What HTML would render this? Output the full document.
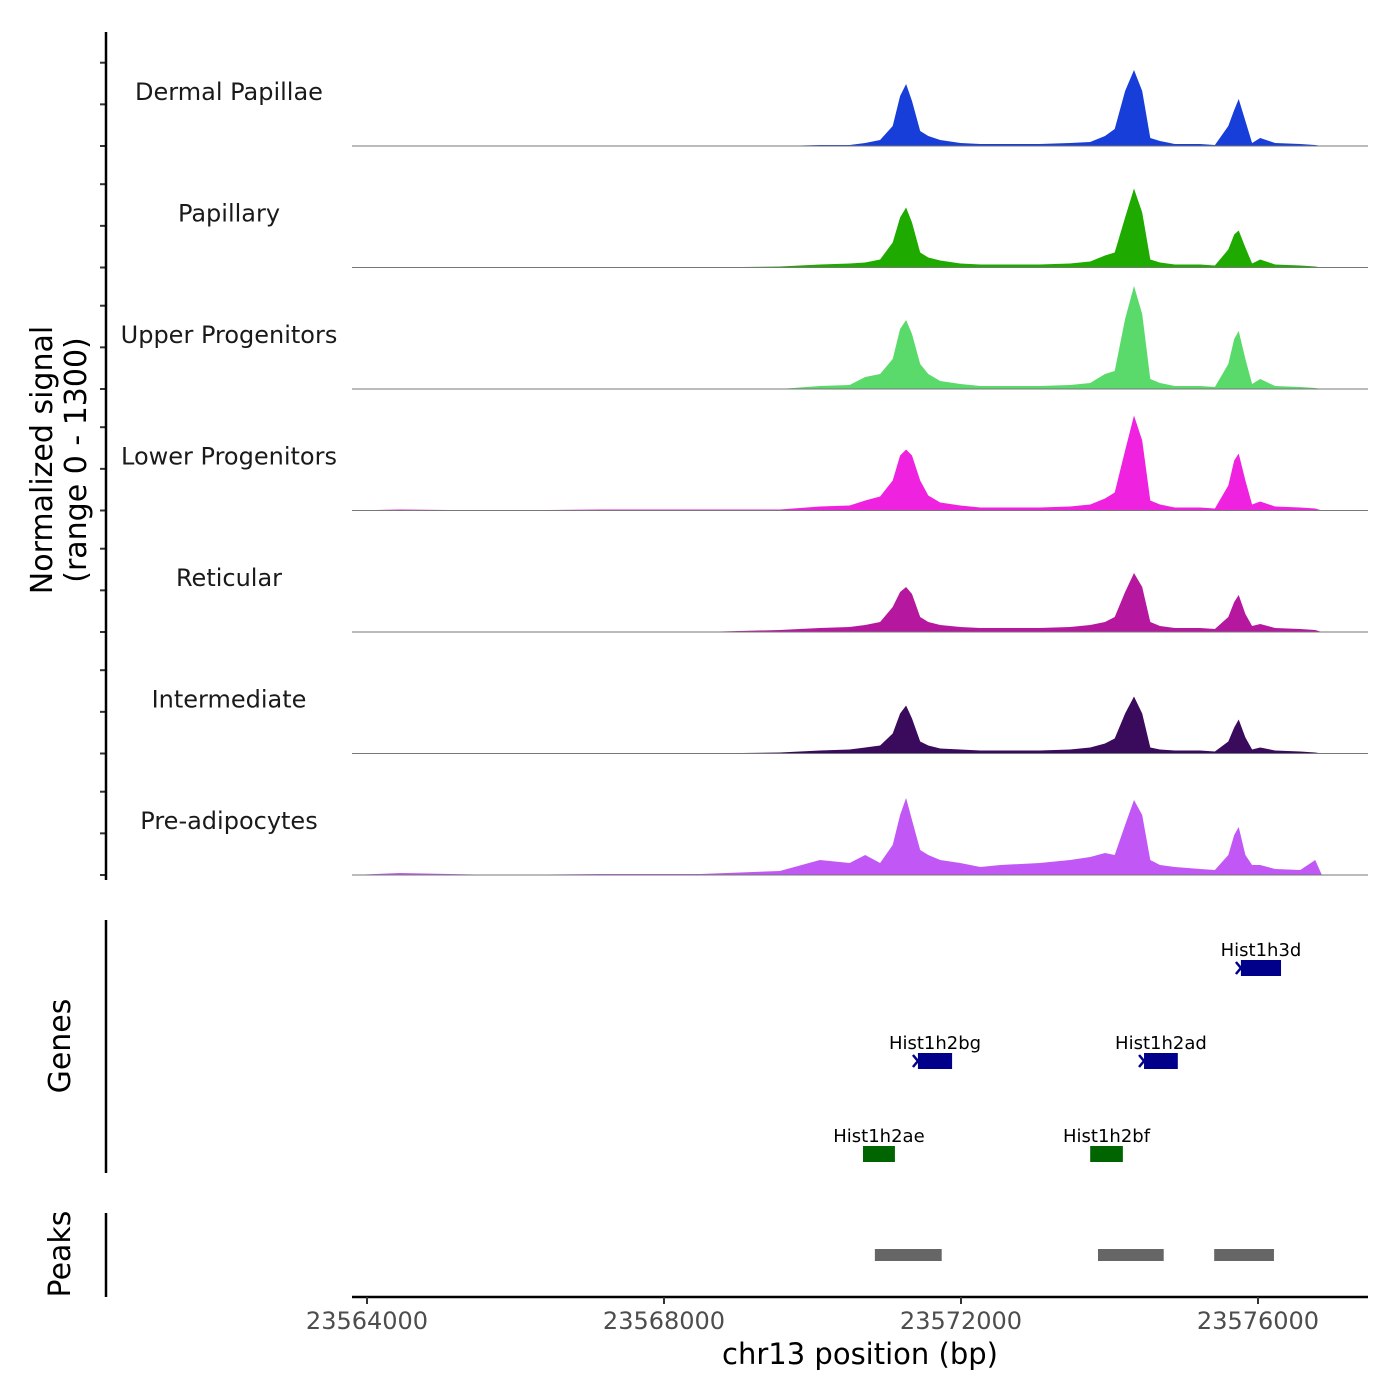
<!DOCTYPE html>
<html><head><meta charset="utf-8"><style>
html,body{margin:0;padding:0;background:#fff;}
svg{display:block;font-family:"DejaVu Sans","Liberation Sans",sans-serif;}
</style></head><body>
<svg id="chart" width="1400" height="1400" viewBox="0 0 1400 1400" xmlns="http://www.w3.org/2000/svg">
<rect width="1400" height="1400" fill="#fff"/>
<g id="tracks"></g>
<g id="genes"></g>
<g id="peaks"></g>
<g id="axes"></g>
<text transform="translate(52,460) rotate(-90)" text-anchor="middle" font-size="30" fill="#000">Normalized signal</text>
<text transform="translate(86,460) rotate(-90)" text-anchor="middle" font-size="30" fill="#000">(range 0 - 1300)</text>
<text transform="translate(70,1046) rotate(-90)" text-anchor="middle" font-size="30" fill="#000">Genes</text>
<text transform="translate(70,1254) rotate(-90)" text-anchor="middle" font-size="30" fill="#000">Peaks</text>
<text x="860" y="1364" text-anchor="middle" font-size="29" fill="#000">chr13 position (bp)</text>
</svg>
<script>
const positions = [23563800,23564440,23565790,23567140,23568490,23569560,23570100,23570500,23570710,23570910,23571080,23571180,23571260,23571340,23571450,23571560,23571720,23571990,23572260,23572530,23573060,23573470,23573740,23573940,23574070,23574210,23574330,23574440,23574550,23574680,23574880,23575220,23575420,23575600,23575680,23575740,23575830,23575920,23576030,23576230,23576570,23576770,23576860];
const trackNames = ["Dermal Papillae","Papillary","Upper Progenitors","Lower Progenitors","Reticular","Intermediate","Pre-adipocytes"];
const trackColors = ["#173ed9","#1faa00","#5ada6a","#ef22e0","#b5179e","#3a0a5c","#c158f5"];
const sigDermal = [0,0,0,0,0,0,12,12,36,72,240,600,744,540,180,120,72,36,24,24,24,36,48,120,204,660,912,660,96,60,24,24,12,240,432,564,300,36,96,36,24,12,0];
const sigPapillary = [0,0,0,0,0,12,36,48,60,96,300,600,720,540,180,120,84,48,36,36,36,48,72,144,180,600,948,660,96,60,36,36,24,216,396,444,240,48,96,36,24,12,0];
const sigUpper = [0,0,0,0,0,0,36,48,144,180,360,720,828,660,300,180,96,60,36,36,36,48,72,180,216,840,1236,900,120,72,36,36,24,300,600,696,360,60,120,36,24,12,0];
const sigLower = [0,12,0,12,12,12,48,60,120,168,360,660,732,660,360,180,96,60,36,36,36,48,72,144,216,720,1140,840,120,72,36,36,24,300,600,684,360,72,108,48,36,24,0];
const sigReticular = [0,0,0,0,0,24,48,60,84,120,300,480,540,456,180,120,84,60,48,48,48,60,84,120,180,480,708,540,120,72,48,48,36,180,360,444,216,72,96,48,36,24,0];
const sigIntermediate = [0,0,0,0,0,12,36,48,72,96,240,480,576,420,144,96,60,48,36,36,36,48,72,120,180,480,684,480,72,48,36,36,24,144,312,408,192,48,72,36,24,12,0];
const sigPreadip = [0,24,0,12,12,48,180,144,240,144,360,720,924,660,300,240,180,144,96,120,144,180,216,264,240,600,900,720,180,120,96,72,60,240,480,576,240,120,120,72,60,180,0];
const signals = [sigDermal,sigPapillary,sigUpper,sigLower,sigReticular,sigIntermediate,sigPreadip];
const yTicks = [0,500,1000];
const xTicks = [23564000,23568000,23572000,23576000];
const xTickLabels = ["23564000","23568000","23572000","23576000"];
const geneNames = ["Hist1h3d","Hist1h2bg","Hist1h2ad","Hist1h2ae","Hist1h2bf"];
const geneStarts = [23575770,23571420,23574465,23570680,23573740];
const geneEnds = [23576310,23571880,23574920,23571110,23574180];
const geneRows = [0,1,1,2,2];
const geneStrand = ["-","-","-","+","+"];
const peakStarts = [23570840,23573845,23575410];
const peakEnds = [23571740,23574730,23576215];

const NS="http://www.w3.org/2000/svg";
function mk(tag,attrs,parent){const e=document.createElementNS(NS,tag);for(const k in attrs)e.setAttribute(k,attrs[k]);parent.appendChild(e);return e;}
const x = bp => 367 + (bp-23564000)*297/4000;
const baseY = i => 146 + i*121.5;
const ys = v => v*0.0833;

const gT=document.getElementById('tracks');
signals.forEach((s,i)=>{
  const b=baseY(i);
  let d=`M${x(positions[0])},${b}`;
  s.forEach((v,j)=>{d+=` L${x(positions[j]).toFixed(1)},${(b-ys(v)).toFixed(1)}`;});
  d+=` L${x(positions[positions.length-1])},${b} Z`;
  const p=mk('path',{d:d,fill:trackColors[i]},gT);
  
  
  const l=mk('line',{x1:352,x2:1368,y1:b,y2:b,stroke:'#777','stroke-width':1},gT);
  
  
  const t=mk('text',{x:229,y:b-46,'text-anchor':'middle','font-size':24,fill:'#1a1a1a'},gT);
  t.textContent=trackNames[i];
  
  
  yTicks.forEach(tv=>{
    const tk=mk('line',{x1:100,x2:106,y1:b-ys(tv),y2:b-ys(tv),stroke:'#333','stroke-width':2},gT);
    
    
  });
});

const gG=document.getElementById('genes');
geneNames.forEach((n,i)=>{
  const cy=968+geneRows[i]*93;
  const col=geneStrand[i]==="-"?"#00008b":"#006400";
  const x1=x(geneStarts[i]), x2=x(geneEnds[i]);
  const r=mk('rect',{x:x1,y:cy-8,width:x2-x1,height:16,fill:col},gG);
  
  
  if(geneStrand[i]==="-"){
    const a=mk('path',{d:`M${x1-5},${cy-6} L${x1},${cy} L${x1-5},${cy+6}`,stroke:col,'stroke-width':2.5,fill:'none'},gG);
    
    
  }
  const t=mk('text',{x:(x1+x2)/2,y:cy-12,'text-anchor':'middle','font-size':18,fill:'#000'},gG);
  t.textContent=n;
  
  
});

const gP=document.getElementById('peaks');
peakStarts.forEach((s,i)=>{
  const r=mk('rect',{x:x(s),y:1249,width:x(peakEnds[i])-x(s),height:12,fill:'#666'},gP);
  
  
});

const gA=document.getElementById('axes');
[[32,880],[920,1173],[1213,1297]].forEach(([a,b])=>{
  const l=mk('line',{x1:106,x2:106,y1:a,y2:b,stroke:'#000','stroke-width':2.5},gA);
  
  
});
const xl=mk('line',{x1:352,x2:1368,y1:1297,y2:1297,stroke:'#000','stroke-width':2.5},gA);


xTicks.forEach((v,i)=>{
  const tk=mk('line',{x1:x(v),x2:x(v),y1:1297,y2:1304,stroke:'#333','stroke-width':2},gA);
  
  
  const t=mk('text',{x:x(v),y:1329,'text-anchor':'middle','font-size':24,fill:'#4d4d4d'},gA);
  t.textContent=xTickLabels[i];
  
  
});
</script>
</body></html>
